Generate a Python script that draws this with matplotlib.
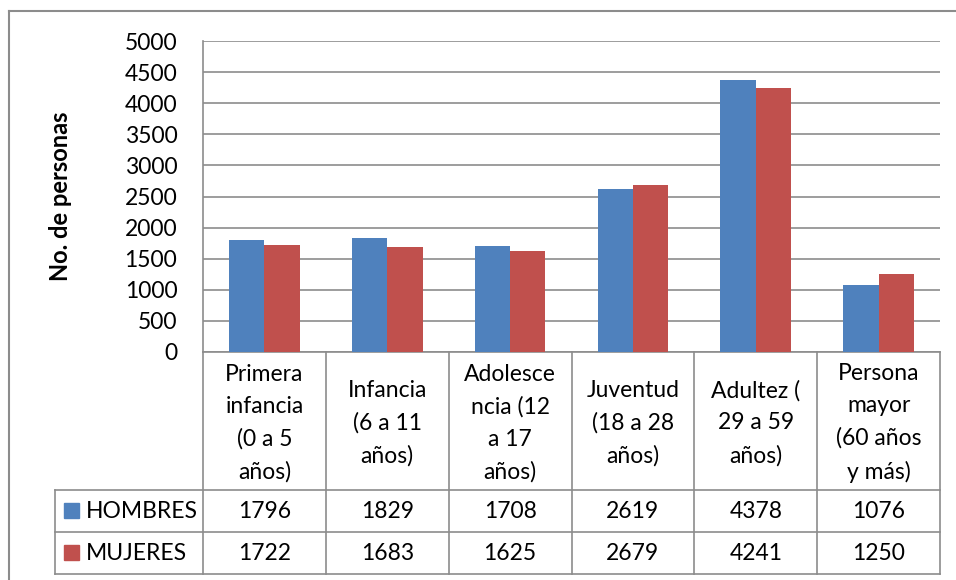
import matplotlib
matplotlib.use("Agg")
import matplotlib.pyplot as plt
from matplotlib.lines import Line2D
from matplotlib.patches import Rectangle
import numpy as np

plt.rcParams["font.family"] = ["Lato", "DejaVu Sans"]

categories = [
    "Primera\ninfancia\n(0 a 5\naños)",
    "Infancia\n(6 a 11\naños)",
    "Adolesce\nncia (12\na 17\naños)",
    "Juventud\n(18 a 28\naños)",
    "Adultez (\n29 a 59\naños)",
    "Persona\nmayor\n(60 años\ny más)",
]
series_names = ["HOMBRES", "MUJERES"]
hombres = [1796, 1829, 1708, 2619, 4378, 1076]
mujeres = [1722, 1683, 1625, 2679, 4241, 1250]
yticks = [0, 500, 1000, 1500, 2000, 2500, 3000, 3500, 4000, 4500, 5000]

BLUE = "#4F81BD"
RED = "#C0504D"
GRID = "#8c8c8c"
FS = 16.5
W, H = 956, 580


def fx(x):
    return x / W


def fy(y):
    return 1 - y / H


fig = plt.figure(figsize=(W / 100, H / 100), dpi=100)

# plot area in pixel coords
left, right, top, bottom = 203, 940, 41, 352
ax = fig.add_axes([fx(left), fy(bottom), fx(right - left), (bottom - top) / H])

x = np.arange(len(categories))
bw = 0.288
ax.bar(x - bw / 2, hombres, bw, color=BLUE, zorder=3)
ax.bar(x + bw / 2, mujeres, bw, color=RED, zorder=3)

ax.set_xlim(-0.5, len(categories) - 0.5)
ax.set_ylim(0, 5000)
ax.set_yticks(yticks)
ax.set_yticklabels([str(v) for v in yticks], fontsize=FS)
ax.tick_params(axis="y", length=0, pad=18.5)
ax.set_xticks([])
ax.yaxis.grid(True, color=GRID, linewidth=1.2, zorder=0)
for side in ["top", "right"]:
    ax.spines[side].set_visible(False)
for side in ["left", "bottom"]:
    ax.spines[side].set_color(GRID)
    ax.spines[side].set_linewidth(1.2)

fig.text(fx(61), fy(196), "No. de personas", rotation=90, ha="center",
         va="center", fontsize=FS + 0.5, fontweight="bold")

# outer chart border
fig.add_artist(Line2D([fx(9), fx(9)], [fy(11), fy(H + 5)], color=GRID, lw=1.5))
fig.add_artist(Line2D([fx(9), fx(W + 5)], [fy(11), fy(11)], color=GRID, lw=1.5))

# data table below the plot
col_w = (right - left) / len(categories)
row_y = [bottom, 490, 532, 574]
tab_left = 55


def hline(y, x0, x1):
    fig.add_artist(Line2D([fx(x0), fx(x1)], [fy(y), fy(y)], color=GRID, lw=1.2))


def vline(xp, y0, y1):
    fig.add_artist(Line2D([fx(xp), fx(xp)], [fy(y0), fy(y1)], color=GRID, lw=1.2))


for y in row_y[1:]:
    hline(y, tab_left, right)
vline(tab_left, row_y[1], row_y[3])
for i in range(len(categories) + 1):
    vline(left + i * col_w, bottom, row_y[3])

for i, cat in enumerate(categories):
    cx = left + (i + 0.5) * col_w
    fig.text(fx(cx), fy((row_y[0] + row_y[1]) / 2 + 2), cat, ha="center",
             va="center", fontsize=FS, linespacing=1.65)

for r, (name, vals, col) in enumerate(zip(series_names, [hombres, mujeres], [BLUE, RED])):
    yc = (row_y[r + 1] + row_y[r + 2]) / 2
    fig.add_artist(Rectangle((fx(64), fy(yc + 7)), fx(15), 15 / H,
                             color=col, transform=fig.transFigure))
    fig.text(fx(86), fy(yc), name, ha="left", va="center", fontsize=FS)
    for i, v in enumerate(vals):
        cx = left + (i + 0.5) * col_w
        fig.text(fx(cx), fy(yc), str(v), ha="center", va="center", fontsize=FS)

fig.savefig("out.png", dpi=100)
